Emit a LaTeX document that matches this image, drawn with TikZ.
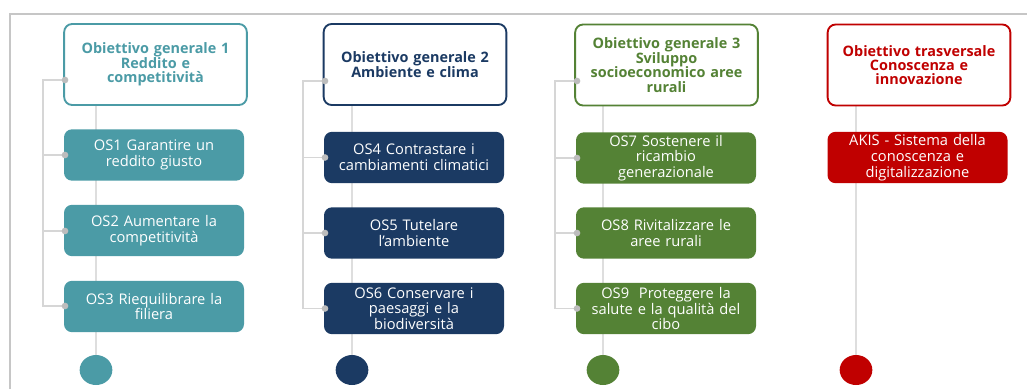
\documentclass[tikz,border=0pt]{standalone}
\usepackage{fontspec}
\setmainfont{Open Sans}
\usetikzlibrary{shapes.geometric}
\definecolor{cteal}{HTML}{4B9BA6}
\definecolor{cnavy}{HTML}{1B3A63}
\definecolor{cgreen}{HTML}{548235}
\definecolor{cred}{HTML}{C00000}
\definecolor{cframe}{HTML}{C6C6C6}
\definecolor{cbus}{HTML}{D6D6D6}
\definecolor{cdot}{HTML}{BDBDBD}
\pgfdeclarelayer{bg}
\pgfsetlayers{bg,main}
\begin{document}
\begin{tikzpicture}[x=0.75pt,y=-0.75pt,
  titlebox/.style={draw=#1, fill=white, line width=1.4pt, rounded corners=6pt,
    minimum width=137pt, minimum height=60.75pt, text width=134pt, align=center,
    inner sep=0pt, text=#1, font=\fontsize{10.8}{10.8}\selectfont\bfseries},
  osbox/.style={fill=#1, draw=none, rounded corners=6pt,
    minimum width=135pt, minimum height=38.5pt, text width=133pt, align=center,
    inner sep=0pt, text=white, font=\fontsize{11}{11.8}\selectfont},
  endball/.style={ellipse, fill=#1, draw=none, minimum width=24.5pt, minimum height=22.5pt, inner sep=0pt},
  gdot/.style={circle, fill=cdot, draw=none, minimum size=5pt, inner sep=0pt},
  bus/.style={draw=cbus, line width=1.1pt},
  stem/.style={draw=cbus!80, line width=1.1pt},
  frame/.style={draw=cframe, line width=1.5pt}
]
\useasboundingbox (0,0) rectangle (1027,389);
\draw[frame] (10,389) -- (10,14) -- (1027,14);

% Group 1
\node[titlebox=cteal] (t1) at (155.5,64.5) {Obiettivo generale 1\\Reddito e\\competitività};
\node[osbox=cteal] (o1) at (154,155) {OS1 Garantire un\\reddito giusto};
\node[osbox=cteal] (o2) at (154,230.5) {OS2 Aumentare la\\competitività};
\node[osbox=cteal] (o3) at (154,306.5) {OS3 Riequilibrare la\\filiera};
\node[endball=cteal] (e1) at (96,370) {};
\node[gdot] (d1a) at (65,80) {};
\node[gdot] (d1b) at (65,155) {};
\node[gdot] (d1c) at (65,231) {};
\node[gdot] (d1d) at (65,306) {};
\coordinate (b1t) at (43,80);
\coordinate (b1b) at (43,306);

% Group 2
\node[titlebox=cnavy] (t2) at (415,64.5) {Obiettivo generale 2\\Ambiente e clima};
\node[osbox=cnavy] (o4) at (414,157.5) {OS4 Contrastare i\\cambiamenti climatici};
\node[osbox=cnavy] (o5) at (414,233) {OS5 Tutelare\\l’ambiente};
\node[osbox=cnavy] (o6) at (414,308.5) {OS6 Conservare i\\paesaggi e la\\biodiversità};
\node[endball=cnavy] (e2) at (352,370) {};
\node[gdot] (d2a) at (325,81) {};
\node[gdot] (d2b) at (325,157.5) {};
\node[gdot] (d2c) at (325,233) {};
\node[gdot] (d2d) at (325,308.5) {};
\coordinate (b2t) at (303,81);
\coordinate (b2b) at (303,308.5);

% Group 3
\node[titlebox=cgreen] (t3) at (666.5,65) {Obiettivo generale 3\\Sviluppo\\socioeconomico aree\\rurali};
\node[osbox=cgreen] (o7) at (666,158) {OS7 Sostenere il\\ricambio\\generazionale};
\node[osbox=cgreen] (o8) at (666,233) {OS8 Rivitalizzare le\\aree rurali};
\node[osbox=cgreen] (o9) at (666,308.5) {OS9\ \ Proteggere la\\salute e la qualità del\\cibo};
\node[endball=cgreen] (e3) at (603,370) {};
\node[gdot] (d3a) at (577,81) {};
\node[gdot] (d3b) at (577,158) {};
\node[gdot] (d3c) at (577,233) {};
\node[gdot] (d3d) at (577,308.5) {};
\coordinate (b3t) at (555,81);
\coordinate (b3b) at (555,308.5);

% Group 4
\node[titlebox=cred] (t4) at (919,65) {Obiettivo trasversale\\Conoscenza e\\innovazione};
\node[osbox=cred] (o10) at (917.5,157.5) {AKIS - Sistema della\\conoscenza e\\digitalizzazione};
\node[endball=cred] (e4) at (856,370) {};

\begin{pgfonlayer}{bg}
  \draw[stem] (e1) -- (e1 |- t1.south);
  \draw[stem] (e2) -- (e2 |- t2.south);
  \draw[stem] (e3) -- (e3 |- t3.south);
  \draw[stem] (e4) -- (e4 |- t4.south);
  \draw[bus] (d1a.center) -- (b1t) -- (b1b) -- (d1d.center);
  \draw[bus] (d1b.center) -- (d1b.center -| b1t);
  \draw[bus] (d1c.center) -- (d1c.center -| b1t);
  \draw[bus] (d2a.center) -- (b2t) -- (b2b) -- (d2d.center);
  \draw[bus] (d2b.center) -- (d2b.center -| b2t);
  \draw[bus] (d2c.center) -- (d2c.center -| b2t);
  \draw[bus] (d3a.center) -- (b3t) -- (b3b) -- (d3d.center);
  \draw[bus] (d3b.center) -- (d3b.center -| b3t);
  \draw[bus] (d3c.center) -- (d3c.center -| b3t);
\end{pgfonlayer}
\end{tikzpicture}
\end{document}
